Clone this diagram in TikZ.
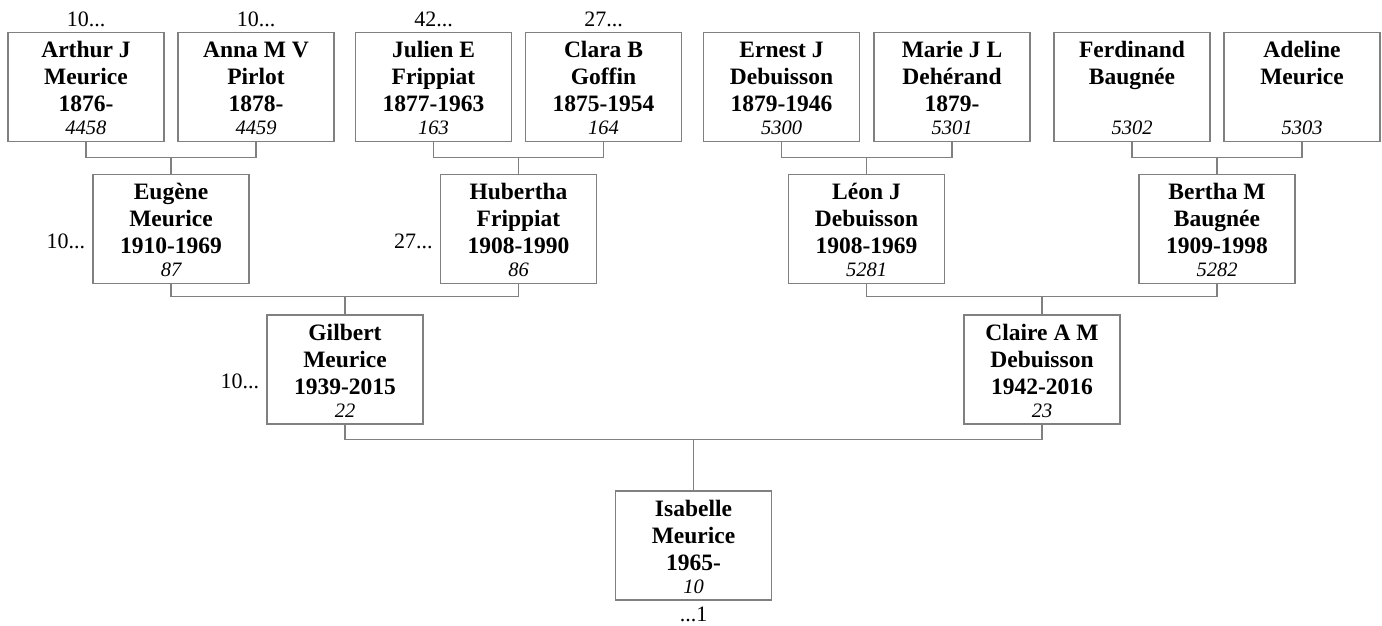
\documentclass[tikz,border=0pt]{standalone}
\usepackage{fontspec}
\setmainfont{Liberation Serif}
\definecolor{boxline}{RGB}{128,128,128}
\tikzset{
  person/.style={draw=boxline, line width=1.3pt, inner xsep=3pt, inner ysep=2.5pt,
    font=\fontsize{23.5}{27}\selectfont\bfseries},
  link/.style={draw=boxline, line width=1.3pt},
  more/.style={inner sep=0pt, font=\fontsize{22}{24}\selectfont}
}
% name, surname, dates, number
\newcommand{\pcard}[4]{\parbox[c][104pt][t]{150pt}{\centering
  \rule{0pt}{22.5pt}#1\\#2\\#3\mbox{}\\[-4pt]{\fontsize{20.5}{22}\selectfont\mdseries\itshape #4}}}
\begin{document}
\begin{tikzpicture}[x=1pt, y=-1pt]
    \useasboundingbox (0,0) rectangle (1382,625);

    % Great-grandparents
    \node[person] (arthur) at (86,87) {\pcard{Arthur J}{Meurice}{1876-}{4458}};
    \node[person] (anna) at (256,87) {\pcard{Anna M V}{Pirlot}{1878-}{4459}};
    \node[person] (julien) at (433.5,87) {\pcard{Julien E}{Frippiat}{1877-1963}{163}};
    \node[person] (clara) at (603.5,87) {\pcard{Clara B}{Goffin}{1875-1954}{164}};
    \node[person] (ernest) at (781.5,87) {\pcard{Ernest J}{Debuisson}{1879-1946}{5300}};
    \node[person] (marie) at (952,87) {\pcard{Marie J L}{Dehérand}{1879-}{5301}};
    \node[person] (ferdinand) at (1132,87) {\pcard{Ferdinand}{Baugnée}{}{5302}};
    \node[person] (adeline) at (1302,87) {\pcard{Adeline}{Meurice}{}{5303}};

    % Grandparents
    \node[person] (eugene) at (171,229) {\pcard{Eugène}{Meurice}{1910-1969}{87}};
    \node[person] (hubertha) at (518.5,229) {\pcard{Hubertha}{Frippiat}{1908-1990}{86}};
    \node[person] (leon) at (866.5,229) {\pcard{Léon J}{Debuisson}{1908-1969}{5281}};
    \node[person] (bertha) at (1217,229) {\pcard{Bertha M}{Baugnée}{1909-1998}{5282}};

    % Parents
    \node[person] (gilbert) at (345,369.5) {\pcard{Gilbert}{Meurice}{1939-2015}{22}};
    \node[person] (claire) at (1042,369.5) {\pcard{Claire A M}{Debuisson}{1942-2016}{23}};

    % Root
    \node[person] (isabelle) at (693.5,545.5) {\pcard{Isabelle}{Meurice}{1965-}{10}};

    % Continuation marks
    \node[more, anchor=base] (arthurmore) at ([yshift=5pt]arthur.north) {10...};
    \node[more, anchor=base] (annamore) at ([yshift=5pt]anna.north) {10...};
    \node[more, anchor=base] (julienmore) at ([yshift=5pt]julien.north) {42...};
    \node[more, anchor=base] (claramore) at ([yshift=5pt]clara.north) {27...};
    \node[more, anchor=base east] (eugenemore) at ([xshift=-7pt,yshift=-19pt]eugene.west) {10...};
    \node[more, anchor=base east] (huberthamore) at ([xshift=-7pt,yshift=-19pt]hubertha.west) {27...};
    \node[more, anchor=base east] (gilbertmore) at ([xshift=-7pt,yshift=-19pt]gilbert.west) {10...};
    \node[more, anchor=base] (isabellemore) at ([yshift=-21pt]isabelle.south) {...1};

    % Couple links
    \draw[link] (arthur.south) -- ++(0,15) -| (anna.south);
    \draw[link] (julien.south) -- ++(0,15) -| (clara.south);
    \draw[link] (ernest.south) -- ++(0,15) -| (marie.south);
    \draw[link] (ferdinand.south) -- ++(0,15) -| (adeline.south);
    \draw[link] (eugene.south) -- ++(0,12) -| (hubertha.south);
    \draw[link] (leon.south) -- ++(0,12) -| (bertha.south);
    \draw[link] (gilbert.south) -- ++(0,15) -| (claire.south);

    % Child links
    \draw[link] (eugene.north) -- ++(0,-16);
    \draw[link] (hubertha.north) -- ++(0,-16);
    \draw[link] (leon.north) -- ++(0,-16);
    \draw[link] (bertha.north) -- ++(0,-16);
    \draw[link] (gilbert.north) -- ++(0,-17);
    \draw[link] (claire.north) -- ++(0,-17);
    \draw[link] (isabelle.north) -- ++(0,-50.5);
\end{tikzpicture}
\end{document}
